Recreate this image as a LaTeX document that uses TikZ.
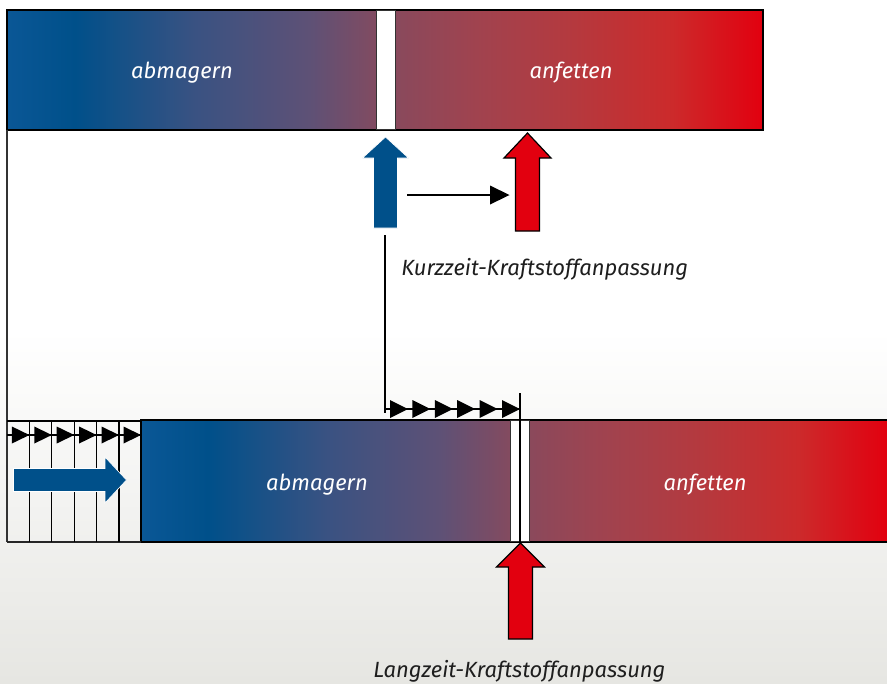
\documentclass[tikz,border=0pt]{standalone}
\usepackage{fontspec}
\setmainfont{Fira Sans}
\usetikzlibrary{calc}
\definecolor{cblue}{HTML}{00508A}
\definecolor{cblue0}{HTML}{0A5796}
\definecolor{cm1}{HTML}{3A5282}
\definecolor{cm2}{HTML}{5E5176}
\definecolor{cmid}{HTML}{864A5E}
\definecolor{cm3}{HTML}{A0434F}
\definecolor{cm4}{HTML}{B5393E}
\definecolor{cm5}{HTML}{CC2A2B}
\definecolor{cred}{HTML}{E2000F}
\definecolor{bggrey}{HTML}{E6E6E2}
\definecolor{txt}{HTML}{1E1E1E}
\pgfdeclarehorizontalshading{lambdashade}{100bp}{color(0bp)=(cblue0); color(25bp)=(cblue0); color(29.5bp)=(cblue); color(37.5bp)=(cm1); color(45bp)=(cm2); color(50bp)=(cmid); color(56bp)=(cm3); color(62.5bp)=(cm4); color(69bp)=(cm5); color(75bp)=(cred); color(100bp)=(cred)}
\tikzset{
  bartext/.style={font=\fontsize{16.5pt}{19pt}\selectfont\itshape, text=white, inner sep=0pt},
  lbltext/.style={font=\fontsize{16.5pt}{19pt}\selectfont\itshape, text=txt, inner sep=0pt, anchor=base west},
  barframe/.style={draw=black, line width=1.5pt},
  gapbox/.style={fill=white, draw=black!80, line width=0.7pt},
  thinline/.style={draw=black, line width=0.8pt},
  blueblock/.style={fill=cblue, draw=white, line width=0.5pt},
  redblock/.style={fill=cred, draw=black, line width=0.9pt},
  tri/.style={fill=black},
}
\begin{document}
\begin{tikzpicture}[x=0.75pt,y=-0.75pt]
\useasboundingbox (0,0) rectangle (887,683);
% background
\fill[white] (0,0) rectangle (887,683);
\shade[top color=white, bottom color=bggrey] (0,330) rectangle (887,683);

% ---- top bar
\coordinate (tbNW) at (7,10);
\coordinate (tbSE) at (763,130);
\shade[shading=lambdashade] (tbNW) rectangle (tbSE);
\draw[barframe] (tbNW) rectangle (tbSE);
\draw[gapbox] (376,10.5) rectangle (395,129.5);
\node[bartext] (tlean) at (182,73) {abmagern};
\node[bartext] (trich) at (571,73) {anfetten};

% left vertical line
\draw[draw=black!80, line width=1.4pt] (7,130) -- (7,542);

% ---- top block arrows
\draw[blueblock] (385.5,137) -- (408.5,158) -- (397.5,158) -- (397.5,228) -- (373.5,228) -- (373.5,158) -- (362.5,158) -- cycle;
\coordinate (bluetop) at (397.5,195);
\draw[redblock] (527.5,133) -- (551,158) -- (539.5,158) -- (539.5,231) -- (515.5,231) -- (515.5,158) -- (504,158) -- cycle;
\coordinate (redtop) at (515.5,195);
\coordinate (hstart) at (407,195);
\coordinate (htip) at (509.5,195);
\draw[thinline] (hstart) -- (490,195);
\fill (490,185.5) -- (htip) -- (490,204.5) -- cycle;

% label short-term
\node[lbltext] (kurz) at (401,275) {Kurzzeit-Kraftstoffanpassung};

% vertical connector
\coordinate (vtop) at (385,235);
\coordinate (vbot) at (385,413);
\draw[thinline] (vtop) -- (vbot);

% upper triangle row
\coordinate (rowL) at (385,409);
\coordinate (rowR) at (520,409);
\draw[thinline] (rowL) -- (rowR);
\foreach \xt in {408,430.4,452.8,475.2,497.6,520}{
  \fill[tri] (\xt-18,400) -- (\xt,409) -- (\xt-18,418) -- cycle;
}

% ---- bottom bar
\coordinate (bbNW) at (141,420);
\coordinate (bbSE) at (888,542);
\shade[shading=lambdashade] (bbNW) rectangle (bbSE);
\draw[barframe] (888,420) -- (bbNW) -- (141,542) -- (888,542);
\draw[gapbox] (510.5,420.5) rectangle (529.5,541.5);
\draw[thinline] (520,393) -- (520,542);
\node[bartext] (blean) at (317,485) {abmagern};
\node[bartext] (brich) at (705,485) {anfetten};

% hatched left part
\draw[thinline] (7,421) -- (141,421);
\draw[draw=black!85, line width=1.1pt] (7,542) -- (141,542);
\foreach \xv in {29.4,51.8,74.2,96.6,119}{
  \draw[thinline] (\xv,421) -- (\xv,542);
}
\draw[thinline] (7,435) -- (141,435);
\foreach \xt in {29.4,51.8,74.2,96.6,119,141}{
  \fill[tri] (\xt-17.5,426.5) -- (\xt,435) -- (\xt-17.5,443.5) -- cycle;
}
% blue right block arrow
\draw[blueblock] (126.5,480) -- (105,457) -- (105,468.5) -- (13.5,468.5) -- (13.5,491.5) -- (105,491.5) -- (105,503) -- cycle;

% bottom red block arrow
\draw[redblock] (520.5,543) -- (544.5,567) -- (532.5,567) -- (532.5,639) -- (508.5,639) -- (508.5,567) -- (496.5,567) -- cycle;

% label long-term
\node[lbltext] (lang) at (373,677) {Langzeit-Kraftstoffanpassung};
\end{tikzpicture}
\end{document}
